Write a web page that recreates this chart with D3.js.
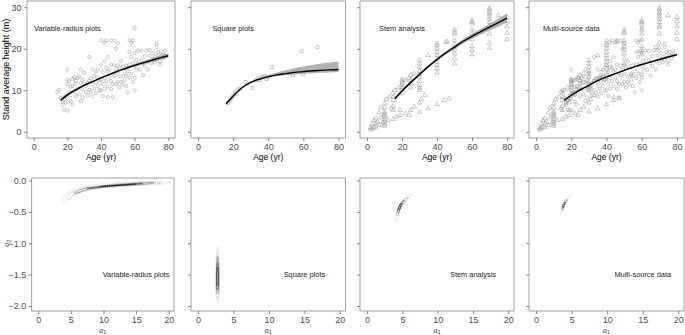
<!DOCTYPE html>
<html>
<head>
<meta charset="utf-8">
<style>
  body { margin: 0; background: #fff; }
  svg { display: block; font-family: "Liberation Sans", Arial, sans-serif; }
</style>
</head>
<body>
<svg width="685" height="335"></svg>
<script src="https://d3js.org/d3.v7.min.js"></script>
<script>
  var titles = ["Variable-radius plots", "Square plots", "Stem analysis", "Multi-source data"];
  var ageTicks = [0, 20, 40, 60, 80],
      heightTicks = [0, 10, 20, 30],
      a1Ticks = [0, 5, 10, 15, 20],
      a2Ticks = [0, -0.5, -1, -1.5, -2];

  // fitted curves and confidence bands
  var fitAges = [16, 20, 25, 30, 35, 40, 45, 50, 55, 60, 65, 70, 75, 80];
  var vrpFit = [7.6, 8.9, 10.1, 11.2, 12.1, 13.0, 13.8, 14.6, 15.3, 16.0, 16.6, 17.2, 17.8, 18.3];
  var vrpLo  = [7.1, 8.5, 9.8, 10.95, 11.9, 12.8, 13.6, 14.35, 15.0, 15.65, 16.2, 16.75, 17.3, 17.75];
  var vrpHi  = [8.1, 9.3, 10.4, 11.45, 12.3, 13.2, 14.0, 14.85, 15.6, 16.35, 17.0, 17.65, 18.3, 18.85];
  var sqFit = [6.7, 8.6, 10.6, 11.9, 12.7, 13.3, 13.7, 14.0, 14.3, 14.5, 14.7, 14.8, 14.9, 15.0];
  var sqLo  = [6.5, 8.4, 10.4, 11.7, 12.5, 13.0, 13.4, 13.6, 13.8, 14.0, 14.1, 14.2, 14.3, 14.4];
  var sqHi  = [6.8, 8.8, 10.8, 12.1, 13.0, 13.7, 14.3, 14.8, 15.3, 15.7, 16.1, 16.4, 16.7, 16.9];
  var stemFit = [8.0, 9.8, 11.9, 13.8, 15.7, 17.4, 19.0, 20.4, 21.8, 23.0, 24.1, 25.2, 26.3, 27.4];
  var stemLo  = [7.6, 9.45, 11.55, 13.45, 15.35, 17.05, 18.6, 19.95, 21.25, 22.4, 23.4, 24.4, 25.3, 26.3];
  var stemHi  = [8.4, 10.15, 12.25, 14.15, 16.05, 17.75, 19.4, 20.85, 22.35, 23.6, 24.8, 26.0, 27.3, 28.5];
  var multiFit = [7.6, 8.8, 10.1, 11.2, 12.3, 13.2, 14.0, 14.8, 15.5, 16.2, 16.8, 17.4, 18.0, 18.6];
  var multiLo  = [7.25, 8.55, 9.9, 11.02, 12.14, 13.05, 13.85, 14.65, 15.35, 16.04, 16.62, 17.2, 17.77, 18.32];
  var multiHi  = [7.95, 9.05, 10.3, 11.38, 12.46, 13.35, 14.15, 14.95, 15.65, 16.36, 16.98, 17.6, 18.23, 18.88];

  // observed [age, height]
  var vrpPts = [[14,9.6],[15,10.1],[16,8.2],[17,7.3],[17,6.5],[18,5.3],[18,7.8],[19,8.7],[19,7],[20,5.1],[20,15],[20,12.5],
    [20,11.5],[20,8],[21,9.5],[21,12.2],[22,8.8],[22,10.9],[22,7.3],[23,12.7],[23,11],[23,6.5],[24,9.7],[24,13.1],[25,12.3],
    [25,8.6],[25,11.6],[26,10.3],[26,12.9],[27,9],[27,13.3],[28,15],[28,7.4],[28,11.8],[29,12.5],[29,10.2],[29,8.3],[30,11.6],
    [30,14.2],[31,9.5],[31,11],[32,11.8],[32,8.7],[33,18],[33,12.3],[33,10.1],[34,12.8],[34,9.5],[35,15],[35,11.4],[35,8.5],
    [36,13.4],[36,10.4],[37,12],[37,14.4],[37,9.3],[38,15],[38,11],[38,13.2],[39,10],[39,12.5],[40,22],[40,16],[40,12.5],
    [40,10],[41,14.3],[41,11.5],[41,8.6],[42,21.5],[42,17],[42,13],[42,10.4],[43,22],[43,15.4],[43,12.2],[44,18],[44,14.5],
    [44,11],[44,8.3],[45,15],[45,13],[46,22],[46,16.2],[46,12.2],[46,10.3],[47,8.3],[47,14],[47,11.5],[48,22],[48,16],
    [48,13.5],[49,20],[49,15],[49,11.5],[50,21.4],[50,16],[50,14],[50,12],[51,15.3],[51,10.7],[52,17],[52,13.3],[52,12],
    [53,15.8],[53,11.4],[54,14],[54,12.5],[55,16],[55,13.5],[55,11],[56,14.6],[56,9.5],[57,22],[57,19.2],[57,16.2],[57,13],
    [58,21.5],[58,18],[58,14],[59,22],[59,16.5],[59,12],[60,25],[60,19],[60,15.8],[60,13],[60,10],[61,17.3],[61,15],
    [62,16.4],[62,19.6],[63,15],[64,17.2],[64,19.5],[65,16.5],[65,13.6],[66,15.8],[66,18.2],[67,19.6],[68,17],[68,15],
    [69,18.3],[69,19.7],[70,16.5],[71,17.5],[71,19],[72,18],[72,16.7],[73,21.2],[73,20.4],[73,17.3],[74,18.5],[74,19.2],
    [75,17],[75,16.2],[76,18.4],[76,19.3],[77,18.6],[77,17.8],[78,18.4],[78,19.5]];
  var sqPts = [[17,6.9],[18,7.5],[19,8],[20,8.7],[21,9.4],[22,9.1],[23,10.2],[24,10.4],[27,12],[31,10.5],[33,12.3],
    [34,12.8],[35,12.5],[36,12.9],[37,13.2],[38,13.4],[39,12.7],[40,13.1],[42,15.6],[54,13.6],[59,19.4],[60,13.8],[68,20.4]];
  var stemPts = [[2,0.5],[2,1.0],[3,1.8],[3,0.8],[4,2.8],[4,1.2],[5,3.2],[5,2.0],[5,1.0],[6,2.4],[7,4.6],[7,1.6],[8,5.8],
    [8,3.4],[9,2.2],[10,6.8],[10,5.8],[10,4.8],[10,4.4],[10,4.0],[10,3.6],[10,3.0],[10,2.4],[10,1.8],[10,1.4],[11,7.8],
    [12,2.8],[13,8.4],[14,5.6],[15,9.4],[15,8.4],[15,7.6],[15,6.2],[15,5.2],[15,3.0],[16,10.0],[17,3.6],[18,10.6],[19,4.0],
    [19,5.2],[20,12.6],[20,12.2],[20,11.6],[20,11.2],[20,10.6],[20,10.0],[20,9.2],[22,12.4],[22,4.4],[24,13.0],[24,4.0],
    [25,13.6],[25,12.4],[25,11.6],[25,10.6],[25,5.2],[27,14.0],[27,6.0],[30,17.2],[30,16.4],[30,15.6],[30,14.6],[30,13.8],
    [30,13.2],[30,12.2],[30,11.2],[30,10.6],[30,10.0],[30,7.0],[30,4.8],[31,7.8],[33,8.8],[35,18.4],[35,5.6],[40,21.2],
    [40,20.8],[40,20.0],[40,19.2],[40,18.4],[40,17.6],[40,16.8],[40,16.0],[40,15.2],[40,14.2],[40,6.6],[44,7.6],[45,21.6],
    [46,21.7],[47,8.0],[50,24.6],[50,24.0],[50,23.6],[50,22.0],[50,21.2],[50,20.4],[50,19.8],[50,18.8],[50,17.6],[50,16.4],
    [60,26.8],[60,26.4],[60,26.0],[60,24.6],[60,23.6],[60,22.2],[60,20.6],[60,19.6],[60,18.6],[70,29.8],[70,29.4],[70,28.8],
    [70,28.4],[70,27.8],[70,27.2],[70,26.4],[70,25.6],[70,25.2],[70,23.6],[70,21.4],[70,20.2],[75,28.0],[80,27.6],[80,26.6],
    [80,25.4],[80,23.8],[80,22.2]];

  // posterior density contours [a1, a2], outer to inner
  var vrpRings = [
    [[3.7,-0.32],[4.2,-0.22],[5.5,-0.14],[7.5,-0.085],[10,-0.05],[13,-0.03],[16,-0.015],[19,-0.01],[20.3,-0.03],[19,-0.06],[16,-0.075],[13,-0.095],[10,-0.125],[7.5,-0.165],[5.5,-0.23],[4.5,-0.32],[4.0,-0.35]],
    [[4.3,-0.29],[4.9,-0.2],[6.5,-0.13],[9,-0.085],[12,-0.055],[15,-0.035],[18,-0.025],[19,-0.04],[17,-0.06],[14,-0.08],[11,-0.105],[8,-0.145],[6,-0.2],[4.8,-0.3]],
    [[5.5,-0.2],[7,-0.13],[9.5,-0.09],[12.5,-0.06],[15.5,-0.04],[17.8,-0.035],[16,-0.06],[13,-0.08],[10,-0.105],[7.5,-0.145],[6,-0.2]],
    [[7.5,-0.125],[10,-0.09],[13,-0.065],[16,-0.045],[14.5,-0.065],[11.5,-0.085],[9,-0.115]],
    [[9.5,-0.095],[12,-0.075],[15,-0.055],[13.5,-0.07],[11,-0.088]]
  ];
  var sqRings = [
    [[2.75,-1.06],[2.95,-1.25],[3.0,-1.55],[2.95,-1.85],[2.75,-1.96],[2.55,-1.85],[2.5,-1.55],[2.55,-1.25]],
    [[2.75,-1.15],[2.92,-1.3],[2.95,-1.55],[2.9,-1.8],[2.75,-1.88],[2.6,-1.8],[2.55,-1.55],[2.6,-1.3]],
    [[2.75,-1.22],[2.9,-1.35],[2.92,-1.55],[2.88,-1.75],[2.75,-1.8],[2.62,-1.75],[2.58,-1.55],[2.62,-1.35]],
    [[2.75,-1.3],[2.86,-1.4],[2.88,-1.55],[2.85,-1.7],[2.75,-1.74],[2.65,-1.7],[2.62,-1.55],[2.65,-1.4]],
    [[2.75,-1.38],[2.83,-1.45],[2.84,-1.55],[2.82,-1.65],[2.75,-1.68],[2.68,-1.65],[2.66,-1.55],[2.68,-1.45]]
  ];
  var stemRings = [
    [[4.05,-0.64],[4.2,-0.5],[4.6,-0.38],[5.2,-0.29],[6.0,-0.22],[6.4,-0.22],[6.1,-0.27],[5.5,-0.34],[5.0,-0.42],[4.6,-0.52],[4.25,-0.64]],
    [[4.2,-0.55],[4.4,-0.45],[4.8,-0.36],[5.4,-0.29],[5.9,-0.26],[5.5,-0.32],[5.0,-0.39],[4.6,-0.48],[4.35,-0.56]],
    [[4.3,-0.5],[4.5,-0.42],[4.9,-0.35],[5.3,-0.31],[5.0,-0.37],[4.7,-0.44],[4.45,-0.51]],
    [[4.4,-0.46],[4.6,-0.4],[4.9,-0.36],[4.75,-0.41],[4.5,-0.47]]
  ];
  var multiRings = [
    [[3.45,-0.55],[3.6,-0.42],[3.95,-0.33],[4.5,-0.26],[4.95,-0.22],[4.7,-0.28],[4.3,-0.34],[3.95,-0.42],[3.65,-0.54]],
    [[3.6,-0.47],[3.75,-0.39],[4.05,-0.33],[4.4,-0.3],[4.2,-0.35],[3.95,-0.41],[3.75,-0.48]],
    [[3.7,-0.44],[3.85,-0.38],[4.1,-0.34],[3.95,-0.39],[3.8,-0.44]]
  ];
  var ringColors = ["#c4c4c4", "#9a9a9a", "#6e6e6e", "#444444", "#1a1a1a"];

  var panels = [
    {fit: vrpFit, lo: vrpLo, hi: vrpHi, sets: [["circle", vrpPts]], rings: vrpRings},
    {fit: sqFit, lo: sqLo, hi: sqHi, sets: [["square", sqPts]], rings: sqRings},
    {fit: stemFit, lo: stemLo, hi: stemHi, sets: [["triangle", stemPts]], rings: stemRings},
    {fit: multiFit, lo: multiLo, hi: multiHi, sets: [["circle", vrpPts], ["square", sqPts], ["triangle", stemPts]], rings: multiRings}
  ];

  var svg = d3.select("svg"),
      font = "Liberation Sans, Arial, sans-serif",
      topFrames = [[27, 175], [191, 345.5], [360, 514], [529, 684]],
      botFrames = [[31.7, 174], [191, 345.5], [360, 514], [529, 684]],
      topTop = 1, topBottom = 138, botTop = 178, botBottom = 311;

  var topY = d3.scaleLinear().domain([-1.5, 31.5]).range([topBottom, topTop]),
      botY = d3.scaleLinear().domain([-2.08, 0.04]).range([botBottom, botTop]);

  var symbols = {
    circle: d3.symbol().type(d3.symbolCircle).size(8),
    square: d3.symbol().type(d3.symbolSquare).size(9),
    triangle: d3.symbol().type(d3.symbolTriangle).size(9)
  };

  function styleAxis(sel) {
    sel.attr("font-family", font).attr("font-size", 9);
    sel.select(".domain").remove();
    sel.selectAll(".tick line").attr("stroke", "#555").attr("stroke-width", 0.7);
    sel.selectAll(".tick text").attr("fill", "#4d4d4d");
  }

  panels.forEach(function(p, i) {
    // top row: height over age
    var f = topFrames[i],
        x = d3.scaleLinear().domain([-4, 84]).range(f),
        g = svg.append("g");

    p.sets.forEach(function(s) {
      g.append("g").selectAll("path")
        .data(s[1])
        .enter().append("path")
          .attr("transform", function(d) { return "translate(" + x(d[0]) + "," + topY(d[1]) + ")"; })
          .attr("d", symbols[s[0]])
          .attr("fill", "none")
          .attr("stroke", "#9a9a9a")
          .attr("stroke-width", 0.55);
    });

    g.append("path")
      .datum(fitAges)
      .attr("fill", "#a3a3a3")
      .attr("fill-opacity", 0.85)
      .attr("d", d3.area()
        .x(function(d) { return x(d); })
        .y0(function(d, j) { return topY(p.lo[j]); })
        .y1(function(d, j) { return topY(p.hi[j]); })
        .curve(d3.curveMonotoneX));

    g.append("path")
      .datum(fitAges)
      .attr("fill", "none")
      .attr("stroke", "#000")
      .attr("stroke-width", 1.4)
      .attr("d", d3.line()
        .x(function(d) { return x(d); })
        .y(function(d, j) { return topY(p.fit[j]); })
        .curve(d3.curveMonotoneX));

    g.append("rect")
      .attr("x", f[0]).attr("y", topTop)
      .attr("width", f[1] - f[0]).attr("height", topBottom - topTop)
      .attr("fill", "none").attr("stroke", "#8a8a8a").attr("stroke-width", 0.8);

    g.append("g")
      .attr("transform", "translate(0," + topBottom + ")")
      .call(d3.axisBottom(x).tickValues(ageTicks).tickSize(3).tickPadding(2.5))
      .call(styleAxis);

    var yAxis = d3.axisLeft(topY).tickValues(heightTicks).tickSize(3).tickPadding(2.5);
    if (i > 0) yAxis.tickFormat("");
    g.append("g")
      .attr("transform", "translate(" + f[0] + ",0)")
      .call(yAxis)
      .call(styleAxis);

    g.append("text")
      .attr("x", x(20)).attr("y", topY(25)).attr("dy", "0.35em")
      .attr("text-anchor", "middle")
      .attr("font-size", 7.4).attr("fill", "#222")
      .text(titles[i]);

    g.append("text")
      .attr("x", (f[0] + f[1]) / 2).attr("y", 160)
      .attr("text-anchor", "middle")
      .attr("font-size", 8.5).attr("fill", "#000")
      .text("Age (yr)");

    // bottom row: a2 over a1 contours
    var fb = botFrames[i],
        bx = d3.scaleLinear().domain([-1, 20.8]).range(fb),
        gb = svg.append("g");

    var ring = d3.line()
      .x(function(d) { return bx(d[0]); })
      .y(function(d) { return botY(d[1]); })
      .curve(d3.curveCatmullRomClosed);

    gb.selectAll("path.ring")
      .data(p.rings)
      .enter().append("path")
        .attr("class", "ring")
        .attr("d", ring)
        .attr("fill", "none")
        .attr("stroke", function(d, k) { return ringColors[k + (5 - p.rings.length) * (k > 0 ? 1 : 0)]; })
        .attr("stroke-width", 0.6)
        .attr("stroke-dasharray", function(d, k) { return k < 2 ? "1.2,0.8" : null; });

    gb.append("rect")
      .attr("x", fb[0]).attr("y", botTop)
      .attr("width", fb[1] - fb[0]).attr("height", botBottom - botTop)
      .attr("fill", "none").attr("stroke", "#8a8a8a").attr("stroke-width", 0.8);

    gb.append("g")
      .attr("transform", "translate(0," + botBottom + ")")
      .call(d3.axisBottom(bx).tickValues(a1Ticks).tickSize(3).tickPadding(2.5))
      .call(styleAxis);

    var a2Axis = d3.axisLeft(botY).tickValues(a2Ticks).tickSize(3).tickPadding(2.5).tickFormat(d3.format(".1f"));
    if (i > 0) a2Axis.tickFormat("");
    gb.append("g")
      .attr("transform", "translate(" + fb[0] + ",0)")
      .call(a2Axis)
      .call(styleAxis);

    gb.append("text")
      .attr("x", bx(15)).attr("y", botY(-1.5)).attr("dy", "0.35em")
      .attr("text-anchor", "middle")
      .attr("font-size", 7.4).attr("fill", "#222")
      .text(titles[i]);

    var a1 = gb.append("text")
      .attr("x", (fb[0] + fb[1]) / 2).attr("y", 332.5)
      .attr("text-anchor", "middle")
      .attr("font-size", 8).attr("fill", "#333");
    a1.append("tspan").attr("font-family", "Liberation Serif, serif").attr("font-style", "italic").text("a");
    a1.append("tspan").attr("font-size", 5.5).attr("dy", 1.5).text("1");
  });

  svg.append("text")
    .attr("transform", "translate(8.5," + ((topTop + topBottom) / 2) + ") rotate(-90)")
    .attr("text-anchor", "middle")
    .attr("font-size", 9).attr("fill", "#000")
    .text("Stand average height (m)");

  var a2 = svg.append("text")
    .attr("transform", "translate(9," + botY(-1) + ") rotate(-90)")
    .attr("text-anchor", "middle")
    .attr("font-size", 8).attr("fill", "#333");
  a2.append("tspan").attr("font-family", "Liberation Serif, serif").attr("font-style", "italic").text("a");
  a2.append("tspan").attr("font-size", 5.5).attr("dy", 1.5).text("2");
</script>
</body>
</html>
